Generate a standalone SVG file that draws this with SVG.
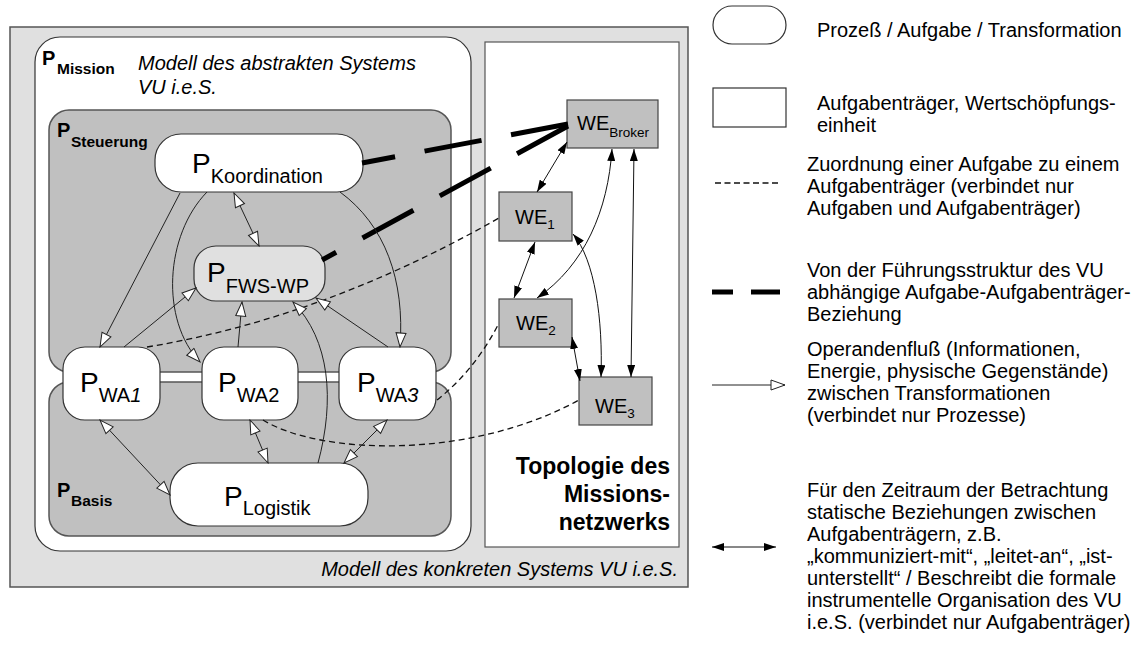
<svg xmlns="http://www.w3.org/2000/svg" width="1146" height="657" viewBox="0 0 1146 657">
<defs>
<style>
text { font-family: "Liberation Sans", Arial, sans-serif; fill:#000; }
.lg { font-size:20px; }
.it { font-size:20px; font-style:italic; }
.bp { font-size:20px; font-weight:bold; }
.bs { font-size:15.5px; font-weight:bold; }
.np { font-size:28px; }
.ns { font-size:20px; }
.we { font-size:20px; }
.ws { font-size:13.5px; }
.topo { font-size:23px; font-weight:bold; text-anchor:end; }
.cont { fill:#c0c0c0; stroke:#555; stroke-width:1.5; }
.proc { fill:#fff; stroke:#333; stroke-width:1.2; }
.web { fill:#c0c0c0; stroke:#444; stroke-width:1.2; }
.flow { fill:none; stroke:#222; stroke-width:1; }
.rel { fill:none; stroke:#111; stroke-width:1; }
.asg { fill:none; stroke:#111; stroke-width:1.3; stroke-dasharray:6 4; }
.lead { fill:none; stroke:#000; stroke-width:5; stroke-dasharray:58 30; }
</style>
<marker id="oa" viewBox="0 0 16 12" refX="15" refY="6" markerWidth="16" markerHeight="12" markerUnits="userSpaceOnUse" orient="auto-start-reverse"><path d="M1,1 L15,6 L1,11 z" fill="#fff" stroke="#222" stroke-width="1"/></marker>
<marker id="fa" viewBox="0 0 12 8" refX="12" refY="4" markerWidth="12" markerHeight="8" markerUnits="userSpaceOnUse" orient="auto-start-reverse"><path d="M0,0 L12,4 L0,8 z" fill="#000"/></marker>
</defs>

<g id="containers">
<rect x="10" y="27" width="678" height="560" fill="#e0e0e0" stroke="#555" stroke-width="1.5"/>
<rect x="35" y="37" width="436" height="514" rx="25" fill="#fff" stroke="#333" stroke-width="1.2"/>
<rect x="485" y="42" width="194" height="505" fill="#fff" stroke="#555" stroke-width="1.2"/>
<rect class="cont" x="49" y="110" width="402" height="262" rx="20"/>
<rect class="cont" x="49" y="382" width="402" height="154" rx="20"/>
<text x="42" y="65" class="bp">P</text><text x="57" y="74" class="bs">Mission</text>
<text x="138" y="70" class="it">Modell des abstrakten Systems</text>
<text x="138" y="94" class="it">VU i.e.S.</text>
<text x="57" y="137" class="bp">P</text><text x="71" y="147" class="bs">Steuerung</text>
<text x="57" y="497" class="bp">P</text><text x="71" y="506" class="bs">Basis</text>
<text x="678" y="576" class="it" text-anchor="end">Modell des konkreten Systems VU i.e.S.</text>
<text x="670" y="474" class="topo">Topologie des</text>
<text x="670" y="502" class="topo">Missions-</text>
<text x="670" y="530" class="topo">netzwerks</text>
</g>

<g id="node-koordination">
<rect class="proc" x="155" y="134" width="208" height="58" rx="26"/>
<text x="192" y="173" class="np">P<tspan class="ns" dy="10">Koordination</tspan></text>
</g>
<g id="node-fws-wp">
<rect x="194" y="246" width="131" height="55" rx="22" fill="#e0e0e0" stroke="#333" stroke-width="1.2"/>
<text x="207" y="282" class="np">P<tspan class="ns" dy="11">FWS-WP</tspan></text>
</g>
<g id="node-wa1">
<rect class="proc" x="63" y="347" width="97" height="73" rx="22"/>
<text x="80" y="392" class="np">P<tspan class="ns" dy="10">WA<tspan font-style="italic">1</tspan></tspan></text>
</g>
<g id="node-wa2">
<rect class="proc" x="202" y="347" width="96" height="73" rx="22"/>
<text x="218" y="392" class="np">P<tspan class="ns" dy="10">WA2</tspan></text>
</g>
<g id="node-wa3">
<rect class="proc" x="339" y="347" width="97" height="73" rx="22"/>
<text x="357" y="392" class="np">P<tspan class="ns" dy="10">WA<tspan font-style="italic">3</tspan></tspan></text>
</g>
<g id="node-logistik">
<rect class="proc" x="170" y="463" width="198" height="63" rx="28"/>
<text x="224" y="506" class="np">P<tspan class="ns" dy="9">Logistik</tspan></text>
</g>

<g id="node-we-broker">
<rect class="web" x="567" y="100" width="91" height="48"/>
<text x="577" y="130" class="we">WE<tspan class="ws" dy="7">Broker</tspan></text>
</g>
<g id="node-we1">
<rect class="web" x="499" y="192" width="73" height="49"/>
<text x="515" y="224" class="we">WE<tspan class="ws" dy="5">1</tspan></text>
</g>
<g id="node-we2">
<rect class="web" x="499" y="299" width="73" height="48"/>
<text x="516" y="330" class="we">WE<tspan class="ws" dy="5">2</tspan></text>
</g>
<g id="node-we3">
<rect class="web" x="579" y="377" width="73" height="48"/>
<text x="595" y="413" class="we">WE<tspan class="ws" dy="5">3</tspan></text>
</g>

<g id="connectors">
<path class="lead" d="M568,124 L362,163"/>
<path class="lead" d="M568,126 L322,260"/>
<path class="asg" d="M147,347 Q323,318 499,218"/>
<path class="asg" d="M437,400 Q475,370 499,323"/>
<path class="asg" d="M263,420 C320,455 470,460 579,400"/>
<path class="flow" d="M180,193 L100,347" marker-end="url(#oa)"/>
<path class="flow" d="M207,192 C165,235 160,320 200,362" marker-end="url(#oa)"/>
<path class="flow" d="M234,193 L259,246" marker-start="url(#oa)" marker-end="url(#oa)"/>
<path class="flow" d="M340,192 C385,225 405,280 400,347" marker-end="url(#oa)"/>
<path class="flow" d="M124,347 L196,288" marker-end="url(#oa)"/>
<path class="flow" d="M238,347 L242,302" marker-end="url(#oa)"/>
<path class="flow" d="M388,347 L316,298" marker-end="url(#oa)"/>
<path class="flow" d="M318,463 C335,400 330,340 293,302" marker-end="url(#oa)"/>
<path class="flow" d="M100,420 L170,495" marker-start="url(#oa)" marker-end="url(#oa)"/>
<path class="flow" d="M250,420 L268,463" marker-start="url(#oa)" marker-end="url(#oa)"/>
<path class="flow" d="M387,420 L344,463" marker-start="url(#oa)" marker-end="url(#oa)"/>
<path class="rel" d="M567,142 L537,192" marker-start="url(#fa)" marker-end="url(#fa)"/>
<path class="rel" d="M535,242 L514,298" marker-start="url(#fa)" marker-end="url(#fa)"/>
<path class="rel" d="M612,149 C608,210 585,265 537,298" marker-start="url(#fa)" marker-end="url(#fa)"/>
<path class="rel" d="M573,234 C595,260 603,320 601,377" marker-start="url(#fa)" marker-end="url(#fa)"/>
<path class="rel" d="M634,149 L631,377" marker-start="url(#fa)" marker-end="url(#fa)"/>
<path class="rel" d="M572,337 L580,381" marker-start="url(#fa)" marker-end="url(#fa)"/>
</g>

<g id="legend">
<rect class="proc" x="713" y="6" width="73" height="38" rx="19"/>
<text x="817" y="37" class="lg">Prozeß / Aufgabe / Transformation</text>
<rect x="713" y="88" width="73" height="39" fill="#fff" stroke="#333" stroke-width="1.2"/>
<text x="817" y="110" class="lg">Aufgabenträger, Wertschöpfungs-</text>
<text x="817" y="132" class="lg">einheit</text>
<line class="asg" x1="715" y1="183" x2="781" y2="183" style="stroke-dasharray:6 3.5"/>
<text x="807" y="171" class="lg">Zuordnung einer Aufgabe zu einem</text>
<text x="807" y="193" class="lg">Aufgabenträger (verbindet nur</text>
<text x="807" y="215" class="lg">Aufgaben und Aufgabenträger)</text>
<line x1="712" y1="292" x2="733" y2="292" stroke="#000" stroke-width="5"/>
<line x1="751" y1="292" x2="780" y2="292" stroke="#000" stroke-width="5"/>
<text x="807" y="277" class="lg">Von der Führungsstruktur des VU</text>
<text x="807" y="299" class="lg">abhängige Aufgabe-Aufgabenträger-</text>
<text x="807" y="321" class="lg">Beziehung</text>
<line class="flow" x1="712" y1="385" x2="785" y2="385" marker-end="url(#oa)"/>
<text x="807" y="356" class="lg">Operandenfluß (Informationen,</text>
<text x="807" y="378" class="lg">Energie, physische Gegenstände)</text>
<text x="807" y="400" class="lg">zwischen Transformationen</text>
<text x="807" y="422" class="lg">(verbindet nur Prozesse)</text>
<line class="rel" x1="712" y1="547" x2="776" y2="547" marker-start="url(#fa)" marker-end="url(#fa)"/>
<text x="807" y="497" class="lg">Für den Zeitraum der Betrachtung</text>
<text x="807" y="519" class="lg">statische Beziehungen zwischen</text>
<text x="807" y="541" class="lg">Aufgabenträgern, z.B.</text>
<text x="807" y="563" class="lg">„kommuniziert-mit“, „leitet-an“, „ist-</text>
<text x="807" y="585" class="lg">unterstellt“ / Beschreibt die formale</text>
<text x="807" y="607" class="lg">instrumentelle Organisation des VU</text>
<text x="807" y="629" class="lg">i.e.S. (verbindet nur Aufgabenträger)</text>
</g>
</svg>
